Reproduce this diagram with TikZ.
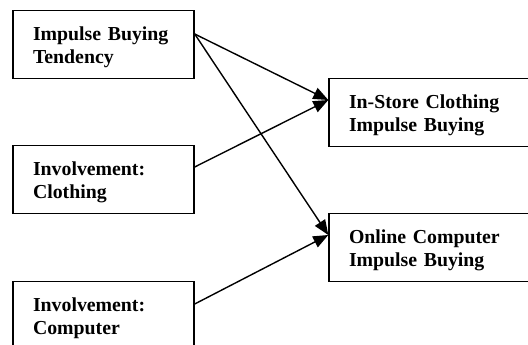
\documentclass[tikz,border=0pt]{standalone}
\usepackage{fontspec}
\setmainfont{Liberation Serif}
\usetikzlibrary{arrows.meta}
\newcommand{\topstr}{\rule{0pt}{19pt}}
\begin{document}
\begin{tikzpicture}[x=1pt,y=1pt,
  box/.style={draw,line width=1.4pt,rectangle,minimum height=68pt,inner xsep=20pt,inner ysep=0pt,
    align=left,font=\fontsize{19.8}{23}\selectfont\bfseries},
  lbox/.style={box,text width=141pt},
  rbox/.style={box,text width=171pt},
  conn/.style={line width=1.4pt,-{Triangle[length=15pt,width=12pt]}}]
\clip (0,0) rectangle (528,345);
\useasboundingbox (0,0) rectangle (528,345);
\node[lbox] (b1) at (103.5,300.5) {\topstr Impulse Buying\\Tendency};
\node[lbox] (b2) at (103.5,165.5) {\topstr Involvement:\\Clothing};
\node[lbox] (b3) at (103.5,29.5) {\topstr Involvement:\\Computer};
\node[rbox] (b4) at (434.5,232.5) {\topstr In-Store Clothing\\Impulse Buying};
\node[rbox] (b5) at (434.5,97.5) {\topstr Online Computer\\Impulse Buying};
\coordinate (s1) at ([yshift=10.5pt]b1.east);
\coordinate (s2) at ([yshift=12.5pt]b2.east);
\coordinate (s3) at ([yshift=11.5pt]b3.east);
\coordinate (t4) at ([yshift=12.5pt]b4.west);
\coordinate (t5) at ([yshift=12.5pt]b5.west);
\draw[conn] (s1) -- (t4);
\draw[conn] (s1) -- (t5);
\draw[conn] (s2) -- (t4);
\draw[conn] (s3) -- (t5);
\end{tikzpicture}
\end{document}
